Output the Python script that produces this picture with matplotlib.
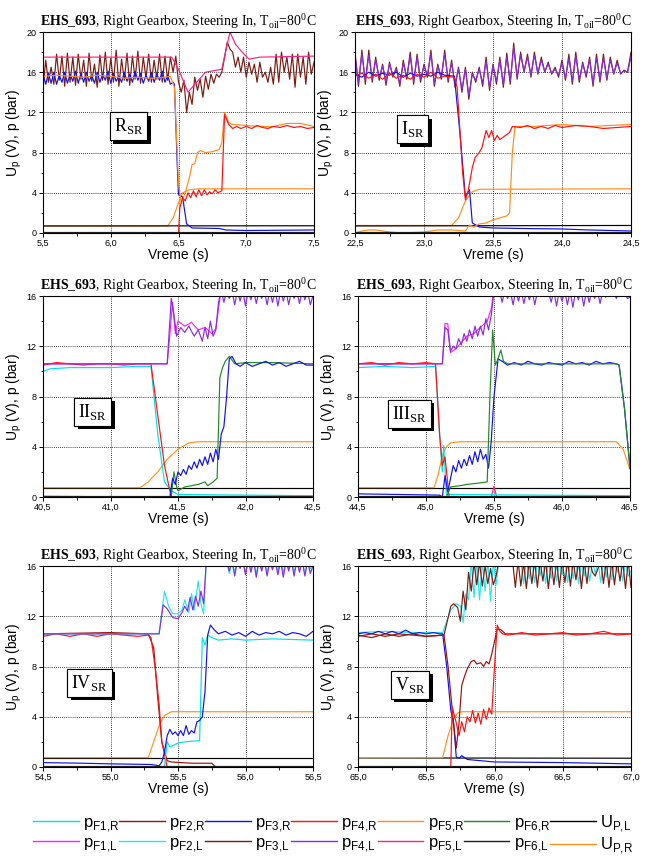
import matplotlib
matplotlib.use("Agg")
import numpy as np
import matplotlib.pyplot as plt
import matplotlib.patheffects as pe
from matplotlib.lines import Line2D
from matplotlib.ticker import FuncFormatter, MultipleLocator

plt.rcParams["font.family"] = ["Liberation Sans", "DejaVu Sans"]
plt.rcParams["mathtext.fontset"] = "custom"
plt.rcParams["mathtext.rm"] = "Liberation Serif"
plt.rcParams["mathtext.bf"] = "Liberation Serif:bold"
plt.rcParams["mathtext.sf"] = "Liberation Sans"

# ---------------- boje signala ----------------
COL = {
    "pF1,R": "#00E0E8", "pF2,R": "#9B1010", "pF3,R": "#1010F0", "pF4,R": "#FF1010",
    "pF5,R": "#FF8C1A", "pF6,R": "#208820", "UP,L": "#000000",
    "pF1,L": "#FF20FF", "pF2,L": "#20E8F0", "pF3,L": "#7A1A10", "pF4,L": "#8A2BE2",
    "pF5,L": "#FF2080", "pF6,L": "#202020", "UP,R": "#FF9020",
}
KEYS_R = ["pF1,R", "pF2,R", "pF3,R", "pF4,R", "pF5,R", "pF6,R", "UP,L"]
KEYS_L = ["pF1,L", "pF2,L", "pF3,L", "pF4,L", "pF5,L", "pF6,L", "UP,R"]

# ---------------- panel 1: R_SR (5,5 - 7,5 s) ----------------
P1_F5L_T = [5.5, 6.0, 6.45, 6.5, 6.57, 6.62, 6.7, 6.78, 6.82, 6.85, 6.88, 6.92, 6.97, 7.02, 7.1, 7.5]
P1_F5L_V = [17.5, 17.5, 17.5, 16.3, 14.0, 14.8, 16.0, 16.2, 16.3, 18.2, 20.0, 18.8, 18.0, 17.3, 17.5, 17.6]
# uzorci na 0,02 s
P1_F3L_V = [14.3, 17.2, 15.0, 16.5, 14.8, 17.8, 15.2, 17.6, 14.6, 17.9,
            15.0, 17.5, 14.7, 17.8, 15.3, 17.2, 14.6, 17.9, 15.1, 16.8,
            14.5, 17.7, 15.2, 18.0, 14.8, 17.4, 15.0, 18.2, 14.6, 17.3,
            15.2, 17.9, 14.7, 17.6, 15.3, 18.1, 14.9, 17.5, 15.4, 17.8,
            15.0, 17.2, 15.3, 17.8, 15.0, 17.6, 15.2, 17.5, 16.0,
            17.6, 15.0, 14.0, 15.2, 12.0, 14.0, 12.8, 15.5, 14.2, 15.3,
            13.5, 15.6, 14.3, 15.8, 14.9, 15.8, 15.5, 16.0, 17.5, 19.0,
            18.3, 18.0, 16.5, 17.5, 16.0, 17.5, 15.5, 17.0, 15.8, 16.8,
            15.0, 17.0, 15.5, 16.0, 15.0, 16.5, 14.8, 17.8, 15.0, 18.0,
            16.0, 17.5, 15.3, 17.8, 14.5, 17.8, 15.5, 17.5, 14.8, 18.0,
            15.8, 17.0]
P1_F3R_ZZ = [15.8, 14.8, 15.9, 14.9, 16.0, 14.8, 15.7, 15.0, 16.0, 14.9,
             15.8, 15.1, 16.1, 14.9, 15.9, 15.0, 16.0, 15.1, 15.7, 14.9,
             16.0, 15.0, 15.8, 15.2, 16.1, 14.9, 15.9, 15.1, 15.6, 15.0,
             16.0, 15.1, 15.8, 15.0, 16.1, 15.2, 15.9, 14.9, 15.7, 15.1,
             16.0, 15.0, 15.8, 15.2, 16.1, 15.0, 15.7, 14.8, 15.0]
P1_F3R_T = [6.47, 6.49, 6.5, 6.53, 6.56, 6.6, 6.8, 6.85, 7.0, 7.5]
P1_F3R_V = [14.8, 7.0, 3.8, 3.6, 0.9, 0.5, 0.45, 0.3, 0.25, 0.3]
P1_F5R_T = [5.5, 5.6, 5.7, 5.8, 5.9, 6.0, 6.1, 6.2, 6.3, 6.4, 6.44, 6.47, 6.5, 6.52, 6.55, 6.58, 6.6,
            6.62, 6.64, 6.66, 6.7, 6.75, 6.8, 6.82, 6.84, 6.87, 6.9, 7.0, 7.1, 7.2, 7.3, 7.4, 7.5]
P1_F5R_V = [15.6, 15.7, 15.6, 15.5, 15.7, 15.6, 15.4, 15.5, 15.4, 15.5, 15.6, 14.5, 5.0, 3.0, 4.0, 5.5, 6.8,
            6.9, 8.0, 8.2, 8.0, 8.1, 8.3, 9.0, 12.0, 11.0, 10.8, 10.7, 10.6, 10.6, 10.9, 10.9, 10.6]
P1_F4R_T = [5.5, 6.5, 6.51, 6.53, 6.55, 6.57, 6.59, 6.61, 6.63, 6.65, 6.67, 6.69, 6.71, 6.73, 6.75, 6.77,
            6.79, 6.82, 6.84, 6.87, 6.9, 6.93, 6.96, 7.0, 7.04, 7.08, 7.12, 7.16, 7.2, 7.25, 7.3, 7.35,
            7.4, 7.45, 7.5]
P1_F4R_V = [0.0, 0.0, 2.5, 3.5, 3.2, 4.0, 3.5, 4.2, 3.6, 4.3, 3.7, 4.3, 3.8, 4.1, 3.9, 4.3,
            4.0, 4.2, 11.8, 10.8, 10.4, 10.6, 10.4, 10.6, 10.4, 10.7, 10.5, 10.4, 10.6, 10.5, 10.7, 10.5,
            10.6, 10.4, 10.5]
P1_UPR_T = [5.5, 6.42, 6.46, 6.5, 6.53, 6.58, 6.65, 7.5]
P1_UPR_V = [0.7, 0.7, 1.5, 3.0, 4.0, 4.3, 4.4, 4.4]
P1_UPL_V = [0.7, 0.72]

# ---------------- panel 2: I_SR (22,5 - 24,5 s) ----------------
P2_F3L_V = [18.0, 14.6, 18.2, 14.8, 18.2, 15.0, 17.5, 15.2, 16.8, 14.7,
            17.0, 15.5, 16.5, 14.6, 17.2, 15.3, 18.0, 14.8, 17.8, 15.0,
            16.8, 15.5, 18.2, 14.6, 16.8, 15.3, 18.2, 15.0, 17.2, 14.5,
            16.5, 14.0, 16.5, 13.3, 16.0, 15.0, 16.5, 14.6, 17.5, 14.2,
            16.8, 14.8, 17.5, 14.5, 17.9, 14.8, 18.9, 15.3, 18.0, 16.0,
            17.8, 15.5, 18.0, 15.8, 17.5, 16.0, 17.0, 15.8, 16.5, 15.5,
            17.2, 15.2, 17.8, 14.8, 18.0, 15.0, 17.0, 15.5, 17.5, 14.6,
            17.8, 15.0, 17.8, 15.2, 17.5, 15.8, 17.2, 15.8, 16.2, 16.0,
            18.0]
P2_F4L_V = [17.6, 15.0, 17.8, 15.2, 17.7, 15.3, 17.2, 15.5, 16.6, 15.0,
            16.8, 15.7, 16.3, 14.9, 16.9, 15.5, 17.6, 15.1, 17.5, 15.3,
            16.6, 15.7, 17.8, 14.9, 16.6, 15.5, 17.8, 15.3, 16.9, 14.8,
            16.3, 14.3, 16.3, 13.7, 15.8, 15.2, 16.3, 14.9, 17.1, 14.5,
            16.6, 15.1, 17.2, 14.8, 17.5, 15.1, 18.5, 15.5, 17.7, 16.1,
            17.5, 15.7, 17.7, 15.9, 17.2, 16.1, 16.8, 15.9, 16.3, 15.7,
            16.9, 15.4, 17.4, 15.1, 17.6, 15.3, 16.8, 15.7, 17.2, 14.9,
            17.4, 15.3, 17.4, 15.4, 17.2, 15.9, 16.9, 15.9, 16.1, 16.0,
            17.5]
P2_F4R_T = [22.5, 22.55, 22.6, 22.65, 22.7, 22.75, 22.8, 22.85, 22.9, 22.95,
            23.0, 23.05, 23.1, 23.15, 23.22, 23.24, 23.28, 23.3, 23.32, 23.35,
            23.37, 23.4, 23.42, 23.45, 23.47, 23.49, 23.51, 23.53, 23.55, 23.58,
            23.6, 23.62, 23.64, 23.7, 23.75, 23.8, 23.85, 23.9, 23.95, 24.0,
            24.1, 24.2, 24.3, 24.4, 24.5]
P2_F4R_V = [15.6, 15.9, 15.4, 15.8, 15.3, 15.9, 15.4, 15.7, 15.3, 15.8,
            15.5, 16.0, 15.4, 15.6, 15.5, 14.5, 6.0, 3.3, 4.2, 6.5,
            7.5, 8.0, 8.5, 10.2, 9.5, 10.2, 9.2, 9.7, 9.3, 9.6,
            9.8, 10.0, 10.6, 10.5, 10.7, 10.4, 10.6, 10.4, 10.7, 10.5,
            10.7, 10.6, 10.4, 10.5, 10.6]
P2_F3R_T = [22.5, 22.55, 22.6, 22.65, 22.7, 22.75, 22.8, 22.85, 22.9, 22.95, 23.0, 23.05, 23.1,
            23.15, 23.22, 23.26, 23.3, 23.33, 23.35, 23.4, 23.5, 23.7, 24.0, 24.2, 24.5]
P2_F3R_V = [15.8, 15.5, 16.0, 15.6, 15.9, 15.7, 16.0, 15.5, 15.9, 15.6, 15.8, 15.6, 16.0,
            15.7, 15.6, 10.0, 3.6, 4.3, 1.0, 0.6, 0.5, 0.45, 0.4, 0.3, 0.2]
P2_F5R_T = [22.5, 22.55, 22.6, 22.65, 22.75, 22.85, 23.0, 23.1, 23.2, 23.3, 23.33, 23.36, 23.4,
            23.45, 23.5, 23.55, 23.6, 23.62, 23.64, 23.66, 23.8, 24.0, 24.2, 24.5]
P2_F5R_V = [0.0, 0.2, 0.3, 0.3, 0.1, 0.0, 0.1, 0.3, 0.3, 0.2, 0.8, 0.6, 0.9,
            1.0, 1.3, 1.5, 1.7, 2.0, 8.0, 10.6, 10.6, 10.8, 10.6, 10.8]
P2_UPR_T = [22.5, 23.2, 23.25, 23.3, 23.35, 23.4, 24.5]
P2_UPR_V = [0.75, 0.75, 1.5, 3.2, 4.1, 4.35, 4.4]
P2_UPL_V = [0.7, 0.75]

# ---------------- panel 3: II_SR (40,5 - 42,5 s) ----------------
P3_F4R_T = [40.5, 40.6, 40.7, 40.8, 40.9, 41.0, 41.1, 41.2, 41.3, 41.35, 41.4, 41.43, 41.45, 42.5]
P3_F4R_V = [10.5, 10.7, 10.6, 10.5, 10.6, 10.6, 10.5, 10.6, 10.6, 6.5, 2.5, 1.0, 0.0, 0.0]
P3_F1R_T = [40.5, 40.55, 40.7, 41.0, 41.2, 41.3, 41.35, 41.4, 41.45, 41.5, 42.5]
P3_F1R_V = [10.0, 10.2, 10.3, 10.3, 10.4, 10.4, 5.0, 1.2, 0.5, 0.2, 0.1]
P3_F1L_T = [40.5, 41.42, 41.44, 41.46, 41.48, 41.5, 41.55, 41.6, 41.65, 41.7, 41.75, 41.78, 41.8, 41.82]
P3_F1L_V = [10.6, 10.6, 13.0, 15.5, 13.0, 14.0, 13.6, 13.9, 13.3, 13.5, 13.0, 13.4, 15.0, 16.5]
P3_F4L_T = [40.5, 41.42, 41.45, 41.47, 41.49, 41.52, 41.55, 41.58, 41.62, 41.65, 41.68, 41.7,
            41.72, 41.74, 41.76, 41.78, 41.8]
P3_F4L_V = [10.6, 10.6, 15.8, 14.5, 12.8, 13.5, 13.1, 13.6, 12.8, 13.3, 12.4, 13.5,
            12.6, 14.0, 12.8, 13.3, 15.5]
P3_F4L_ZZ = [16.4, 15.5, 16.4, 15.8, 16.4, 15.3, 16.4, 15.6, 16.4, 15.2, 16.4, 15.7, 16.4, 15.4,
             16.4, 15.8, 16.4, 15.3, 16.4, 15.5, 16.4, 15.2, 16.4, 15.6, 16.4, 15.3, 16.4, 15.8,
             16.4, 15.4, 16.4, 15.7, 16.4, 15.3, 16.0]
P3_F3R_T = [40.5, 41.44, 41.46, 41.48, 41.5, 41.52, 41.54, 41.56, 41.58, 41.6,
            41.62, 41.64, 41.66, 41.68, 41.7, 41.72, 41.74, 41.76, 41.78, 41.8,
            41.82, 41.84, 41.86, 41.88, 41.9, 41.93, 41.96, 42.0, 42.05, 42.1,
            42.15, 42.2, 42.25, 42.3, 42.35, 42.4, 42.45, 42.5]
P3_F3R_V = [0.05, 0.0, 1.5, 1.0, 2.0, 1.7, 2.2, 1.8, 2.5, 2.2,
            2.8, 2.3, 3.0, 2.5, 3.2, 2.6, 3.5, 2.8, 3.8, 3.0,
            5.0, 5.6, 8.0, 11.0, 11.2, 10.6, 10.4, 10.7, 10.4, 10.6,
            10.8, 10.5, 10.7, 10.4, 10.6, 10.8, 10.5, 10.5]
P3_F6R_T = [40.5, 41.45, 41.47, 41.49, 41.5, 41.55, 41.6, 41.65, 41.7, 41.72, 41.76, 41.79,
            41.81, 41.83, 41.85, 41.88, 41.92, 42.0, 42.2, 42.5]
P3_F6R_V = [0.0, 0.0, 2.0, 0.8, 0.5, 0.8, 0.9, 1.0, 1.2, 0.9, 1.2, 1.5,
            9.5, 10.3, 10.8, 11.2, 10.6, 10.7, 10.7, 10.6]
P3_UPR_T = [40.5, 41.22, 41.28, 41.35, 41.42, 41.5, 41.58, 41.65, 42.5]
P3_UPR_V = [0.75, 0.75, 1.2, 2.0, 3.0, 3.8, 4.3, 4.4, 4.4]
P3_UPL_V = [0.7, 0.7]

# ---------------- panel 4: III_SR (44,5 - 46,5 s) ----------------
P4_F4R_T = [44.5, 44.6, 44.7, 44.8, 44.9, 45.0, 45.07, 45.1, 45.12, 45.14, 45.17, 46.5]
P4_F4R_V = [10.6, 10.7, 10.5, 10.7, 10.6, 10.7, 10.6, 5.0, 2.5, 3.2, 0.0, 0.0]
P4_F1R_T = [44.5, 44.7, 44.9, 45.07, 45.1, 45.12, 45.13, 45.15, 46.5]
P4_F1R_V = [10.3, 10.4, 10.3, 10.4, 5.0, 2.0, 4.1, 0.2, 0.1]
P4_F1L_T = [44.5, 45.12, 45.14, 45.16, 45.18, 45.22, 45.26, 45.3, 45.35, 45.4, 45.45, 45.48, 45.5]
P4_F1L_V = [10.6, 10.6, 13.8, 13.8, 11.5, 11.8, 12.3, 12.8, 13.0, 13.5, 14.0, 15.0, 16.5]
P4_F4L_T = [44.5, 45.12, 45.14, 45.16, 45.18, 45.2, 45.22, 45.24, 45.26, 45.28, 45.3, 45.32,
            45.34, 45.36, 45.38, 45.4, 45.42, 45.44, 45.46, 45.48]
P4_F4L_V = [10.6, 10.6, 13.5, 13.3, 11.6, 12.0, 11.8, 12.6, 12.1, 13.0, 12.4, 13.3,
            12.6, 13.6, 12.8, 13.6, 12.9, 14.2, 13.3, 14.5]
P4_F4L_ZZ = [16.4, 16.4, 16.4, 15.5, 16.4, 15.8, 16.4, 15.3, 16.4, 15.6,
             16.4, 15.4, 16.4, 15.7, 16.4, 15.3, 16.4, 16.4, 16.4, 16.4,
             16.4, 15.5, 16.4, 15.2, 16.4, 15.6, 16.4, 15.3, 16.4, 15.1,
             16.4, 15.7, 16.4, 15.2, 16.4, 15.5, 16.4, 15.8, 16.4, 15.4,
             16.4, 15.9, 16.4, 16.4, 16.4, 15.8, 16.4, 16.4, 16.4, 15.8, 15.9]
P4_F3R_T = [44.5, 44.8, 45.1, 45.12, 45.14, 45.16, 45.2, 45.22, 45.24, 45.26,
            45.28, 45.3, 45.32, 45.34, 45.36, 45.38, 45.4, 45.42, 45.44, 45.46,
            45.48, 45.5, 45.53, 45.56, 45.6, 45.65, 45.7, 45.75, 45.8, 45.85,
            45.9, 45.95, 46.0, 46.05, 46.1, 46.15, 46.2, 46.25, 46.3, 46.35,
            46.4, 46.42, 46.46, 46.5]
P4_F3R_V = [0.25, 0.2, 0.15, 0.0, 1.7, 0.4, 2.5, 2.0, 2.9, 2.3,
            3.0, 2.5, 3.3, 2.6, 3.6, 2.8, 3.8, 3.0, 3.4, 2.3,
            4.5, 8.0, 11.0, 10.8, 10.5, 10.7, 10.5, 10.8, 10.6, 10.5,
            10.7, 10.6, 10.5, 10.8, 10.6, 10.7, 10.5, 10.8, 10.6, 10.7,
            10.6, 10.5, 7.0, 2.3]
P4_F6R_T = [44.5, 45.15, 45.18, 45.25, 45.3, 45.38, 45.45, 45.47, 45.49, 45.51, 45.53, 45.55,
            45.57, 45.6, 46.4, 46.42, 46.46, 46.5]
P4_F6R_V = [0.0, 0.0, 0.8, 0.9, 1.0, 1.1, 1.2, 8.0, 13.3, 10.5, 11.0, 11.7,
            10.8, 10.6, 10.6, 10.5, 7.0, 2.3]
P4_F5L_T = [44.5, 45.48, 45.5, 45.52, 46.5]
P4_F5L_V = [0.0, 0.0, 0.85, 0.0, 0.0]
P4_UPR_T = [44.5, 45.06, 45.09, 45.12, 45.15, 45.18, 45.25, 46.4, 46.45, 46.5]
P4_UPR_V = [0.75, 0.75, 1.8, 3.3, 4.0, 4.3, 4.4, 4.4, 3.8, 2.2]
P4_UPL_V = [0.7, 0.7]

# ---------------- panel 5: IV_SR (54,5 - 56,5 s) ----------------
P5_F4R_T = [54.5, 54.6, 54.7, 54.8, 54.9, 55.0, 55.1, 55.2, 55.28, 55.3, 55.33, 55.36, 55.38, 55.42, 56.5]
P5_F4R_V = [10.4, 10.6, 10.4, 10.6, 10.4, 10.6, 10.5, 10.4, 10.5, 10.3, 8.0, 5.0, 2.0, 0.0, 0.0]
P5_F2R_T = [54.5, 55.0, 55.28, 55.32, 55.35, 55.38, 55.42, 55.45, 55.6, 55.75, 55.78, 56.5]
P5_F2R_V = [10.6, 10.7, 10.6, 9.5, 5.5, 2.0, 0.5, 0.4, 0.3, 0.3, 0.0, 0.0]
P5_F4L_T = [54.5, 55.36, 55.39, 55.42, 55.46, 55.5, 55.53, 55.55, 55.57, 55.59, 55.61, 55.63,
            55.65, 55.67, 55.69, 55.71, 55.8]
P5_F4L_V = [10.6, 10.6, 12.9, 12.6, 11.9, 11.8, 12.3, 12.8, 12.4, 13.5, 12.5, 13.6,
            12.8, 14.0, 13.0, 16.5, 17.0]
P5_F4L_ZZ = [16.4, 15.6, 16.4, 15.2, 16.4, 15.8, 16.4, 15.3, 16.4, 15.5, 16.4, 15.1, 16.4, 15.6,
             16.4, 15.2, 16.4, 15.7, 16.4, 15.3, 16.4, 15.1, 16.4, 15.6, 16.4, 15.2, 16.4, 15.5,
             16.4, 15.2, 16.4, 15.4, 16.0]
P5_F2L_T = [54.5, 55.36, 55.4, 55.43, 55.46, 55.5, 55.53, 55.55, 55.58, 55.6, 55.62, 55.65,
            55.67, 55.69, 55.71, 55.8]
P5_F2L_V = [10.6, 10.6, 14.0, 12.8, 12.2, 12.2, 12.5, 13.3, 12.3, 13.8, 12.5, 14.8,
            13.0, 12.2, 16.5, 17.0]
P5_F2L_ZZ = [16.4, 15.4, 16.4, 15.5, 16.4, 15.9, 16.4, 15.5, 16.4, 15.7, 16.4, 15.4, 16.4, 15.8,
             16.4, 15.5, 16.4, 15.9, 16.4, 15.6, 16.4, 15.5, 16.4, 15.8, 16.4, 15.5, 16.4, 15.7,
             16.4, 15.4, 16.4, 15.8, 16.2]
P5_F3R_T = [54.5, 54.8, 55.0, 55.3, 55.36, 55.38, 55.4, 55.42, 55.44, 55.46,
            55.48, 55.5, 55.52, 55.54, 55.56, 55.58, 55.6, 55.62, 55.64, 55.66,
            55.68, 55.7, 55.72, 55.74, 55.77, 55.8, 55.85, 55.9, 55.95, 56.0,
            56.05, 56.1, 56.15, 56.2, 56.25, 56.3, 56.35, 56.4, 56.45, 56.5]
P5_F3R_V = [0.35, 0.3, 0.25, 0.2, 0.1, 0.4, 1.2, 2.5, 3.0, 2.6,
            2.8, 2.5, 2.9, 2.5, 3.3, 2.6, 2.9, 2.7, 3.6, 3.7,
            4.0, 6.0, 10.5, 11.3, 10.9, 10.6, 10.8, 10.5, 10.7, 10.4,
            10.8, 10.5, 10.7, 10.6, 10.8, 10.5, 10.7, 10.6, 10.4, 10.8]
P5_F1R_T = [54.5, 55.4, 55.42, 55.44, 55.5, 55.55, 55.66, 55.68, 55.7, 55.72, 55.75, 55.8,
            55.9, 56.0, 56.2, 56.5]
P5_F1R_V = [0.0, 0.0, 2.0, 1.6, 1.9, 2.0, 2.1, 10.3, 9.7, 10.5, 10.3, 10.1,
            10.2, 10.1, 10.2, 10.1]
P5_UPR_T = [54.5, 55.28, 55.32, 55.36, 55.4, 55.45, 56.5]
P5_UPR_V = [0.75, 0.75, 2.0, 3.3, 4.1, 4.4, 4.4]
P5_UPL_V = [0.7, 0.7]

# ---------------- panel 6: V_SR (65,0 - 67,0 s) ----------------
P6_F3R_T = [65.0, 65.05, 65.1, 65.15, 65.2, 65.25, 65.3, 65.35, 65.4, 65.45, 65.5, 65.55,
            65.6, 65.62, 65.65, 65.68, 65.7, 65.72, 65.74, 65.76, 65.8, 66.0, 66.5, 67.0]
P6_F3R_V = [10.6, 10.7, 10.6, 10.8, 10.6, 10.8, 10.6, 10.9, 10.6, 10.7, 10.6, 10.7,
            10.6, 10.6, 8.0, 4.5, 3.5, 0.8, 0.7, 0.9, 0.6, 0.4, 0.35, 0.25]
P6_F2L_T = [65.0, 65.2, 65.4, 65.62, 65.68, 65.72, 65.75, 65.77, 65.79, 65.81]
P6_F2L_V = [10.7, 10.8, 10.7, 10.7, 12.5, 13.0, 12.8, 11.5, 13.8, 13.3]
P6_F2L_ZZ = [16.4, 13.5, 16.4, 13.3, 16.4, 14.0, 16.4, 13.2, 16.4, 14.5,
             16.4, 16.8, 16.8, 16.8, 16.8, 16.8, 16.8, 16.8, 16.4, 14.6,
             16.4, 15.0, 16.4, 14.7, 16.4, 15.2, 16.4, 14.6, 16.4, 15.0,
             16.4, 14.8, 16.4, 15.3, 16.4, 14.7, 16.4, 15.0, 16.4, 14.6,
             16.4, 15.2, 16.4, 14.8, 16.4, 15.4, 16.4, 14.7, 16.4, 15.1,
             16.4, 14.9, 16.4, 15.5, 16.4, 14.8, 16.4, 15.2, 15.6]
P6_F3L_T = [65.0, 65.1, 65.2, 65.3, 65.4, 65.5, 65.63, 65.68, 65.7, 65.73, 65.75, 65.77, 65.79, 65.81]
P6_F3L_V = [10.5, 10.3, 10.6, 10.4, 10.6, 10.4, 10.5, 12.8, 13.0, 12.7, 11.6, 14.0, 12.5, 15.5]
P6_F3L_ZZ = [14.0, 16.3, 14.5, 16.3, 14.4, 16.0, 14.6, 15.8, 14.5, 15.2,
             16.4, 16.8, 16.8, 16.8, 16.8, 16.4, 14.3, 16.4, 14.4, 16.3,
             14.2, 16.4, 14.6, 16.4, 14.3, 16.4, 14.8, 16.4, 14.2, 16.4,
             14.5, 16.4, 14.3, 16.4, 14.7, 16.4, 14.4, 16.4, 14.9, 16.4,
             14.2, 16.4, 14.6, 16.4, 15.5, 15.2, 15.8, 16.4, 14.6, 16.4,
             14.3, 16.4, 14.5, 16.4, 14.8, 16.4, 14.2, 16.4, 14.3]
P6_F2R_T = [65.0, 65.1, 65.2, 65.3, 65.4, 65.5, 65.63, 65.66, 65.7, 65.72,
            65.74, 65.76, 65.78, 65.8, 65.83, 65.85, 65.87, 65.9, 65.92, 65.94,
            65.96, 65.98, 66.0, 66.02, 66.05, 66.08, 67.0]
P6_F2R_V = [10.4, 10.6, 10.4, 10.6, 10.5, 10.4, 10.5, 8.0, 3.5, 1.5,
            3.5, 6.5, 7.2, 7.8, 8.4, 8.5, 8.2, 8.3, 8.0, 8.4,
            8.2, 9.0, 10.0, 11.0, 10.9, 10.6, 10.6]
P6_F4R_T = [65.0, 65.68, 65.69, 65.72, 65.74, 65.76, 65.78, 65.8, 65.82, 65.84,
            65.86, 65.88, 65.9, 65.92, 65.94, 65.96, 65.98, 66.0, 66.02, 66.04,
            66.06, 66.1, 66.2, 66.3, 66.4, 66.5, 66.6, 66.7, 66.8, 66.9, 67.0]
P6_F4R_V = [0.0, 0.0, 4.8, 3.5, 2.5, 3.6, 2.8, 4.0, 3.6, 4.5,
            3.5, 4.3, 3.4, 4.6, 3.8, 4.7, 4.2, 8.0, 11.3, 10.8,
            10.6, 10.5, 10.7, 10.5, 10.6, 10.7, 10.5, 10.6, 10.8, 10.5, 10.6]
P6_UPR_T = [65.0, 65.62, 65.66, 65.7, 65.73, 65.76, 67.0]
P6_UPR_V = [0.75, 0.75, 2.5, 3.8, 4.3, 4.4, 4.4]
P6_UPL_V = [0.72, 0.7]

XLIMS = [(5.5, 7.5), (22.5, 24.5), (40.5, 42.5), (44.5, 46.5), (54.5, 56.5), (65.0, 67.0)]
YMAX = [20, 20, 16, 16, 16, 16]
LABELS = ["R", "I", "II", "III", "IV", "V"]
LABEL_POS = [(0.316, 0.53), (0.208, 0.517), (0.185, 0.423), (0.19, 0.415), (0.172, 0.418), (0.19, 0.41)]


def zz(t0, t1, vals):
    return np.linspace(t0, t1, len(vals)), vals


def join(t_a, v_a, t_b, v_b):
    return np.concatenate([t_a, t_b]), np.concatenate([v_a, v_b])


# koji signali idu na koji panel (redosled crtanja)
P1 = [
    ((P1_UPR_T, P1_UPR_V), "UP,R"),
    ((XLIMS[0], P1_UPL_V), "UP,L"),
    (zz(5.5, 7.5, P1_F3L_V), "pF3,L"),
    ((P1_F5L_T, P1_F5L_V), "pF5,L"),
    (join(*zz(5.5, 6.46, P1_F3R_ZZ), P1_F3R_T, P1_F3R_V), "pF3,R"),
    ((P1_F5R_T, P1_F5R_V), "pF5,R"),
    ((P1_F4R_T, P1_F4R_V), "pF4,R"),
]
P2 = [
    ((P2_UPR_T, P2_UPR_V), "UP,R"),
    ((XLIMS[1], P2_UPL_V), "UP,L"),
    (zz(22.5, 24.5, P2_F3L_V), "pF3,L"),
    (zz(22.5, 24.5, P2_F4L_V), "pF4,L"),
    ((P2_F3R_T, P2_F3R_V), "pF3,R"),
    ((P2_F5R_T, P2_F5R_V), "pF5,R"),
    ((P2_F4R_T, P2_F4R_V), "pF4,R"),
]
P3 = [
    ((XLIMS[2], P3_UPL_V), "UP,L"),
    ((P3_UPR_T, P3_UPR_V), "UP,R"),
    ((P3_F1R_T, P3_F1R_V), "pF1,R"),
    ((P3_F4R_T, P3_F4R_V), "pF4,R"),
    ((P3_F1L_T, P3_F1L_V), "pF1,L"),
    (join(P3_F4L_T, P3_F4L_V, *zz(41.82, 42.5, P3_F4L_ZZ)), "pF4,L"),
    ((P3_F6R_T, P3_F6R_V), "pF6,R"),
    ((P3_F3R_T, P3_F3R_V), "pF3,R"),
]
P4 = [
    ((XLIMS[3], P4_UPL_V), "UP,L"),
    ((P4_F5L_T, P4_F5L_V), "pF5,L"),
    ((P4_UPR_T, P4_UPR_V), "UP,R"),
    ((P4_F1R_T, P4_F1R_V), "pF1,R"),
    ((P4_F4R_T, P4_F4R_V), "pF4,R"),
    ((P4_F1L_T, P4_F1L_V), "pF1,L"),
    (join(P4_F4L_T, P4_F4L_V, *zz(45.5, 46.5, P4_F4L_ZZ)), "pF4,L"),
    ((P4_F3R_T, P4_F3R_V), "pF3,R"),
    ((P4_F6R_T, P4_F6R_V), "pF6,R"),
]
P5 = [
    ((XLIMS[4], P5_UPL_V), "UP,L"),
    ((P5_UPR_T, P5_UPR_V), "UP,R"),
    ((P5_F2R_T, P5_F2R_V), "pF2,R"),
    ((P5_F4R_T, P5_F4R_V), "pF4,R"),
    (join(P5_F2L_T, P5_F2L_V, *zz(55.86, 56.5, P5_F2L_ZZ)), "pF2,L"),
    (join(P5_F4L_T, P5_F4L_V, *zz(55.86, 56.5, P5_F4L_ZZ)), "pF4,L"),
    ((P5_F1R_T, P5_F1R_V), "pF1,R"),
    ((P5_F3R_T, P5_F3R_V), "pF3,R"),
]
P6 = [
    ((XLIMS[5], P6_UPL_V), "UP,L"),
    ((P6_UPR_T, P6_UPR_V), "UP,R"),
    (join(P6_F2L_T, P6_F2L_V, *zz(65.83, 67.0, P6_F2L_ZZ)), "pF2,L"),
    (join(P6_F3L_T, P6_F3L_V, *zz(65.83, 67.0, P6_F3L_ZZ)), "pF3,L"),
    ((P6_F3R_T, P6_F3R_V), "pF3,R"),
    ((P6_F2R_T, P6_F2R_V), "pF2,R"),
    ((P6_F4R_T, P6_F4R_V), "pF4,R"),
]
PANELS = [P1, P2, P3, P4, P5, P6]

# raspored osa u pikselima (levo, gore, desno, dole)
W, H = 650, 859
BOXES = [(43, 32, 314, 233), (355, 32, 631, 233),
         (43, 296, 313, 497), (358, 296, 630, 497),
         (43, 566, 313, 767), (358, 566, 631, 767)]

TITLE = r"$\mathbf{EHS\_693}$, Right Gearbox, Steering In, T$_{\mathrm{oil}}$=80$^{\mathrm{0}}$C"
comma = FuncFormatter(lambda v, p: f"{v:.1f}".replace(".", ","))

fig = plt.figure(figsize=(W / 100, H / 100), dpi=100)

for i, (l, t, r, b) in enumerate(BOXES):
    ax = fig.add_axes([l / W, 1 - b / H, (r - l) / W, (b - t) / H])
    for (tt, vv), key in PANELS[i]:
        ax.plot(tt, vv, color=COL[key], lw=0.85)
    # tanka linija pri nuli
    ax.plot(XLIMS[i], [0.06, 0.06], color=COL["pF6,L"], lw=0.85)

    ax.set_xlim(*XLIMS[i])
    ax.set_ylim(0, YMAX[i])
    ax.xaxis.set_major_locator(MultipleLocator(0.5))
    ax.xaxis.set_minor_locator(MultipleLocator(0.25))
    ax.yaxis.set_major_locator(MultipleLocator(4))
    ax.yaxis.set_minor_locator(MultipleLocator(2))
    ax.xaxis.set_major_formatter(comma)
    ax.tick_params(which="major", direction="out", length=3, width=0.7, labelsize=6.5, pad=1.5)
    ax.tick_params(which="minor", direction="out", length=1.8, width=0.6)
    ax.grid(True, which="major", color="black", lw=0.6, ls=(0, (1, 1.5)))
    for s in ax.spines.values():
        s.set_linewidth(0.8)

    ax.set_title(TITLE, family=["Liberation Serif"], fontsize=10, pad=4)
    ax.set_xlabel("Vreme (s)", fontsize=10, labelpad=0)
    ax.set_ylabel(r"U$_{\mathsf{p}}$ (V), p (bar)", fontsize=10, labelpad=2)

    fx, fy = LABEL_POS[i]
    txt = ax.text(fx, fy, LABELS[i] + r"$_{\mathrm{SR}}$", transform=ax.transAxes,
                  ha="center", va="center", fontsize=13, family=["Liberation Serif"], zorder=10,
                  bbox=dict(boxstyle="square,pad=0.22", fc="white", ec="black", lw=0.8))
    txt.get_bbox_patch().set_path_effects(
        [pe.withSimplePatchShadow(offset=(2.5, -2.5), shadow_rgbFace="black", alpha=1.0), pe.Normal()])

# legenda: dva reda po sedam
handles, labels = [], []
for kr, kl in zip(KEYS_R, KEYS_L):
    for k in (kr, kl):
        handles.append(Line2D([], [], color=COL[k], lw=1.0))
        sub = k[1:].replace(",", "{,}")
        if k.startswith("p"):
            labels.append(r"p$_{\mathsf{" + sub + "}}$")
        else:
            labels.append(r"U$_{\mathsf{" + sub + "}}$")
fig.legend(handles, labels, ncol=7, loc="upper left", bbox_to_anchor=(33 / W, 1 - 813 / H),
           frameon=False, fontsize=12, handlelength=2.75, handletextpad=0.25,
           columnspacing=0.0, labelspacing=0.1, borderpad=0, borderaxespad=0)

fig.savefig("out.png", dpi=100, facecolor="white")
